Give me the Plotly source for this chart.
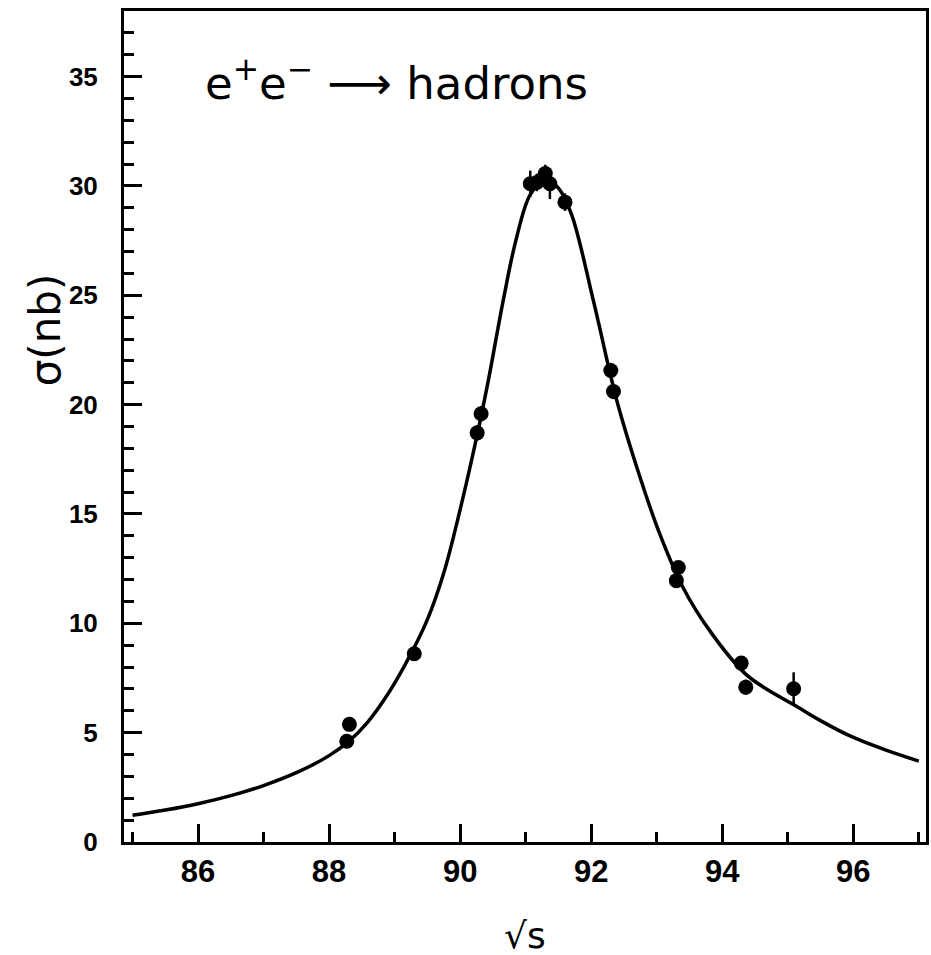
import plotly.graph_objects as go

# measured data points (sqrt(s) in GeV, sigma in nb)
pt_x = [88.27, 88.31, 89.30, 90.26, 90.32, 91.07, 91.17, 91.30, 91.37, 91.60,
        92.30, 92.34, 93.30, 93.33, 94.29, 94.36, 95.09]
pt_y = [4.61, 5.38, 8.61, 18.71, 19.58, 30.1, 30.16, 30.57, 30.1, 29.26,
        21.56, 20.60, 11.95, 12.55, 8.18, 7.08, 7.01]
pt_err = [0.25, 0.25, 0.3, 0.35, 0.35, 0.6, 0.4, 0.4, 0.7, 0.4,
          0.35, 0.35, 0.3, 0.3, 0.3, 0.35, 0.75]

# fitted line shape
fit_x = [85.0, 85.5, 86.0, 86.5, 87.0, 87.56, 88.0, 88.3, 88.58, 88.85, 89.14,
         89.49, 89.75, 90.0, 90.23, 90.43, 90.66, 90.85, 91.07, 91.3, 91.5, 91.7,
         92.03, 92.39, 92.7, 93.02, 93.4, 93.8, 94.35, 94.7, 95.08, 95.5, 95.95,
         96.5, 97.0]
fit_y = [1.22, 1.46, 1.75, 2.12, 2.58, 3.25, 3.95, 4.6, 5.45, 6.55, 8.0,
         10.1, 12.3, 15.2, 18.2, 21.1, 24.8, 27.5, 29.6, 30.3, 29.9, 28.7,
         24.8, 20.2, 17.1, 14.3, 11.65, 9.7, 7.7, 6.95, 6.3, 5.55, 4.85,
         4.2, 3.7]

x_ticks = [86, 88, 90, 92, 94, 96]
y_ticks = [0, 5, 10, 15, 20, 25, 30, 35]

fig = go.Figure()
fig.add_trace(go.Scatter(x=fit_x, y=fit_y, mode="lines",
                         line=dict(color="black", width=3.5, shape="spline", smoothing=1.0),
                         hoverinfo="skip", showlegend=False))
fig.add_trace(go.Scatter(x=pt_x, y=pt_y, mode="markers",
                         marker=dict(color="black", size=15, symbol="circle"),
                         error_y=dict(type="data", array=pt_err, visible=True,
                                      color="black", thickness=2.5, width=0),
                         showlegend=False))

axis_common = dict(showgrid=False, zeroline=False, showline=True, linecolor="black",
                   linewidth=3, mirror=True, ticks="inside", ticklen=18, tickwidth=2.5,
                   tickcolor="black")

fig.update_xaxes(range=[84.87, 97.11], tickvals=x_ticks,
                 ticktext=[str(v) for v in x_ticks],
                 tickfont=dict(family="Liberation Sans", size=31, color="black", weight="bold"),
                 minor=dict(dtick=1, tick0=85, ticks="inside", ticklen=10, tickwidth=2.5,
                            tickcolor="black", showgrid=False),
                 **axis_common)
fig.update_yaxes(range=[0, 38], tickvals=y_ticks,
                 ticktext=[str(v) for v in y_ticks],
                 tickfont=dict(family="Liberation Sans", size=26, color="black", weight="bold"),
                 ticklabelstandoff=18,
                 minor=dict(dtick=1, tick0=0, ticks="inside", ticklen=10, tickwidth=2.5,
                            tickcolor="black", showgrid=False),
                 **axis_common)

fig.update_layout(
    width=931, height=955,
    margin=dict(l=124, r=2, t=11, b=113),
    paper_bgcolor="white", plot_bgcolor="white",
    annotations=[
        dict(text="e<sup>+</sup>e<sup>−</sup> ⟶ hadrons", xref="paper", yref="paper",
             x=(203 - 124) / 805, y=(841.6 - 80) / 830.9, xanchor="left", yanchor="middle",
             showarrow=False, font=dict(family="DejaVu Sans", size=45, color="black")),
        dict(text="σ(nb)", xref="paper", yref="paper", x=0, xshift=-79,
             y=(841.6 - 330) / 830.9, xanchor="center", yanchor="middle", textangle=-90,
             showarrow=False, font=dict(family="DejaVu Sans", size=42, color="black")),
        dict(text="√s", xref="paper", yref="paper", x=(527 - 124) / 805, y=0,
             yshift=-93, xanchor="center", yanchor="middle",
             showarrow=False, font=dict(family="DejaVu Sans", size=36, color="black")),
    ],
)

fig.write_html("out.html")
